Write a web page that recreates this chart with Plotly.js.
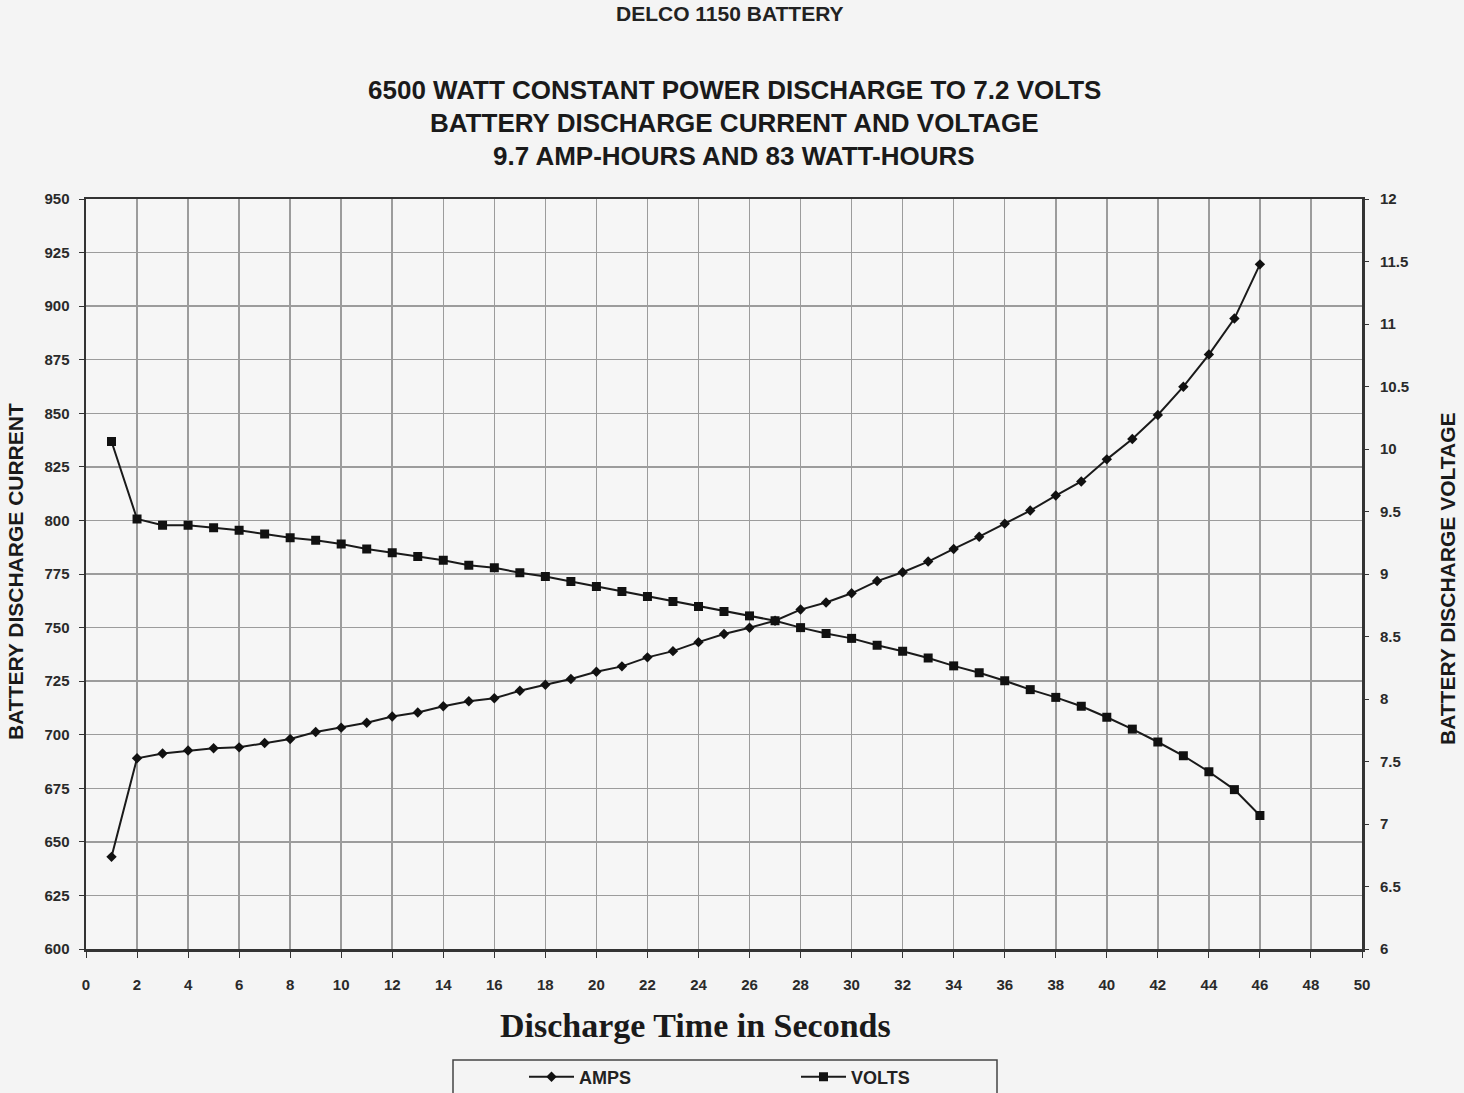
<!DOCTYPE html>
<html>
<head>
<meta charset="utf-8">
<script src="https://cdn.plot.ly/plotly-3.0.1.min.js"></script>
<style>
html,body{margin:0;padding:0;background:#f4f4f4;}
#chart{width:1464px;height:1093px;}
</style>
</head>
<body>
<div id="chart"></div>
<script>
// Discharge time in seconds
const seconds = [1,2,3,4,5,6,7,8,9,10,11,12,13,14,15,16,17,18,19,20,21,22,23,24,25,26,27,28,29,30,31,32,33,34,35,36,37,38,39,40,41,42,43,44,45,46];
// Battery discharge current (A), left axis
const amps = [643,689,691.2,692.6,693.7,694.1,696.1,698,701.3,703.3,705.6,708.5,710.4,713.3,715.6,717,720.5,723.3,726,729.4,731.9,736.1,739,743.2,747,749.9,753.2,758.4,761.7,766,771.7,775.8,780.8,786.7,792.4,798.5,804.6,811.6,818.2,828.5,838,849.2,862.4,877.4,894.2,919.5];
// Battery discharge voltage (V), right axis
const volts = [10.06,9.44,9.39,9.39,9.37,9.35,9.32,9.29,9.27,9.24,9.2,9.17,9.14,9.11,9.07,9.05,9.01,8.98,8.94,8.9,8.86,8.82,8.78,8.74,8.7,8.665,8.626,8.571,8.524,8.485,8.43,8.382,8.328,8.265,8.21,8.146,8.075,8.013,7.942,7.854,7.759,7.656,7.546,7.418,7.275,7.068];
// Tick labels
const xTicks = [0,2,4,6,8,10,12,14,16,18,20,22,24,26,28,30,32,34,36,38,40,42,44,46,48,50];
const leftTicks = [600,625,650,675,700,725,750,775,800,825,850,875,900,925,950];
const rightTicks = [6,6.5,7,7.5,8,8.5,9,9.5,10,10.5,11,11.5,12];
const titleLines = ["6500 WATT CONSTANT POWER DISCHARGE TO 7.2 VOLTS","BATTERY DISCHARGE CURRENT AND VOLTAGE","9.7 AMP-HOURS AND 83 WATT-HOURS"];
const topLabel = "DELCO 1150 BATTERY";
const xTitle = "Discharge Time in Seconds";
const yLeftTitle = "BATTERY DISCHARGE CURRENT";
const yRightTitle = "BATTERY DISCHARGE VOLTAGE";

const SANS = "Liberation Sans, Arial, sans-serif";
const tickFont = {family: SANS, size: 15, color: "#2a2a2a", weight: 700};

const plotL = 86, plotR = 1362, plotTop = 199, plotBottom = 949;
const plotW = plotR - plotL, plotH = plotBottom - plotTop;
function px(pix){ return (pix - plotL) / plotW; }
function py(pix){ return (plotBottom - pix) / plotH; }

const traces = [
  {
    x: seconds, y: amps, name: "AMPS", type: "scatter", mode: "lines+markers",
    line: {color: "#1a1a1a", width: 2},
    marker: {symbol: "diamond", size: 8, color: "#111"},
    yaxis: "y"
  },
  {
    x: seconds, y: volts, name: "VOLTS", type: "scatter", mode: "lines+markers",
    line: {color: "#1a1a1a", width: 2},
    marker: {symbol: "square", size: 9, color: "#111"},
    yaxis: "y2"
  }
];

const annotations = [
  {text: topLabel, xref: "paper", x: px(730), xanchor: "center", yref: "paper", y: py(13), yanchor: "middle", showarrow: false,
   font: {family: SANS, size: 21, color: "#222", weight: 700}},
  {text: xTitle, xref: "paper", x: px(695), xanchor: "center", yref: "paper", y: py(1025), yanchor: "middle", showarrow: false,
   font: {family: "Liberation Serif, Times New Roman, serif", size: 34, color: "#1a1a1a", weight: 700}},
  {text: yLeftTitle, xref: "paper", x: px(15), xanchor: "center", yref: "paper", y: py(572), yanchor: "middle", showarrow: false, textangle: -90,
   font: {family: SANS, size: 21, color: "#1a1a1a", weight: 700}},
  {text: yRightTitle, xref: "paper", x: px(1447), xanchor: "center", yref: "paper", y: py(579), yanchor: "middle", showarrow: false, textangle: -90,
   font: {family: SANS, size: 21, color: "#1a1a1a", weight: 700}}
];
const titleY = [90, 123, 156];
titleLines.forEach((t, i) => {
  annotations.push({text: t, xref: "paper", x: px(734), xanchor: "center", yref: "paper", y: py(titleY[i]), yanchor: "middle", showarrow: false,
    font: {family: SANS, size: 26, color: "#1a1a1a", weight: 700}});
});

const shapes = [
  {type: "rect", xref: "paper", yref: "paper", x0: px(453), x1: px(997), y0: py(1100), y1: py(1060),
   line: {color: "#444", width: 1.5}, fillcolor: "rgba(0,0,0,0)", layer: "below"}
];

const layout = {
  width: 1464, height: 1093,
  paper_bgcolor: "#f4f4f4", plot_bgcolor: "#f6f6f6",
  margin: {l: plotL, r: 1464 - plotR, t: plotTop, b: 1093 - plotBottom, autoexpand: false},
  showlegend: true,
  legend: {
    orientation: "h", x: px(524), xanchor: "left", y: py(1077), yanchor: "middle",
    borderwidth: 0, bgcolor: "rgba(0,0,0,0)",
    entrywidth: 212, entrywidthmode: "pixels",
    font: {family: SANS, size: 18, color: "#222", weight: 700},
    itemwidth: 45
  },
  annotations: annotations,
  shapes: shapes,
  xaxis: {
    range: [0, 50], tickmode: "array", tickvals: xTicks, ticktext: xTicks.map(String),
    showgrid: true, gridcolor: "#9c9c9c", gridwidth: 1.5,
    showline: true, mirror: true, linecolor: "#333", linewidth: 2.5,
    ticks: "outside", ticklen: 6, tickcolor: "#333", zeroline: false,
    ticklabelstandoff: 14,
    tickfont: tickFont
  },
  yaxis: {
    range: [600, 950], tickmode: "array", tickvals: leftTicks, ticktext: leftTicks.map(String),
    showgrid: true, gridcolor: "#9c9c9c", gridwidth: 1.5,
    showline: true, mirror: true, linecolor: "#333", linewidth: 2.5,
    ticks: "outside", ticklen: 5, tickcolor: "#333", zeroline: false,
    ticklabelstandoff: 6,
    tickfont: tickFont
  },
  yaxis2: {
    range: [6, 12], overlaying: "y", side: "right", tickmode: "array", tickvals: rightTicks, ticktext: rightTicks.map(String),
    showgrid: false, zeroline: false, showline: false,
    ticks: "outside", ticklen: 6, tickcolor: "#333",
    ticklabelstandoff: 8,
    tickfont: tickFont
  }
};

Plotly.newPlot("chart", traces, layout, {displayModeBar: false, staticPlot: true});
</script>
</body>
</html>
